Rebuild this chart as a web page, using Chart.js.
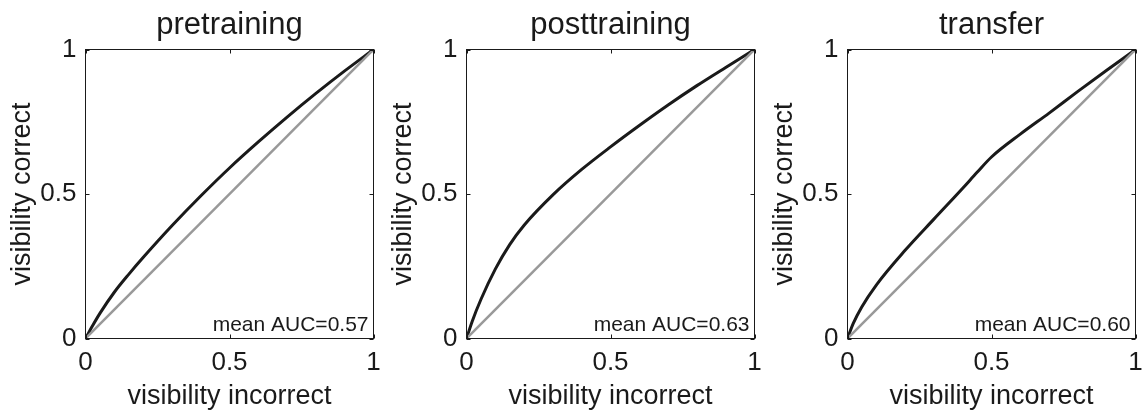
<!DOCTYPE html>
<html lang="en">
<head>
<meta charset="UTF-8">
<title>ROC curves by training phase</title>
<script src="https://cdn.jsdelivr.net/npm/chart.js"></script>
<style>
  body { margin: 0; background: #fff; }
  #panels { display: flex; width: 1142px; height: 410px; }
  canvas { display: block; }
</style>
</head>
<body>
<div id="panels">
  <canvas id="pre" width="381" height="410"></canvas>
  <canvas id="post" width="381" height="410"></canvas>
  <canvas id="transfer" width="380" height="410"></canvas>
</div>
<script>
const conditions = ['pretraining', 'posttraining', 'transfer'];
const meanAUC = ['0.57', '0.63', '0.60'];
const axisTicks = [0, 0.5, 1];
const chanceLine = [0, 1];

// mean ROC curves: visibility incorrect (x) vs visibility correct (y)
const preIncorrect  = [0, 0.025, 0.05, 0.1, 0.15, 0.2, 0.3, 0.4, 0.5, 0.6, 0.7, 0.8, 0.9, 1];
const preCorrect    = [0, 0.045, 0.087, 0.16, 0.222, 0.28, 0.39, 0.493, 0.59, 0.68, 0.766, 0.848, 0.926, 1];

const postIncorrect = [0, 0.02, 0.05, 0.1, 0.15, 0.2, 0.3, 0.4, 0.5, 0.6, 0.7, 0.8, 0.9, 1];
const postCorrect   = [0, 0.06, 0.135, 0.24, 0.325, 0.392, 0.497, 0.585, 0.663, 0.737, 0.808, 0.875, 0.938, 1];

const transIncorrect = [0, 0.02, 0.05, 0.1, 0.2, 0.3, 0.4, 0.45, 0.5, 0.6, 0.7, 0.8, 0.9, 1];
const transCorrect   = [0, 0.052, 0.11, 0.185, 0.305, 0.413, 0.52, 0.575, 0.628, 0.707, 0.78, 0.855, 0.928, 1];

const FONT = '"Liberation Sans", Arial, sans-serif';
const INK = '#1a1a1a';

// box around the axes, inward tick marks and the AUC note
const frame = {
  id: 'frame',
  afterDatasetsDraw(chart, args, opts) {
    const { ctx, chartArea: a, scales: { x, y } } = chart;
    ctx.save();
    ctx.strokeStyle = INK;
    ctx.lineWidth = 1;
    ctx.strokeRect(a.left, a.top, a.right - a.left, a.bottom - a.top);
    const tl = 4;
    ctx.beginPath();
    axisTicks.forEach(v => {
      const px = Math.round(x.getPixelForValue(v)) + 0.5;
      const py = Math.round(y.getPixelForValue(v)) + 0.5;
      ctx.moveTo(px, a.bottom); ctx.lineTo(px, a.bottom - tl);
      ctx.moveTo(px, a.top); ctx.lineTo(px, a.top + tl);
      ctx.moveTo(a.left, py); ctx.lineTo(a.left + tl, py);
      ctx.moveTo(a.right, py); ctx.lineTo(a.right - tl, py);
    });
    ctx.stroke();
    ctx.fillStyle = INK;
    ctx.font = '21px ' + FONT;
    ctx.textAlign = 'right';
    ctx.textBaseline = 'alphabetic';
    ctx.fillText('mean AUC=' + opts.auc, a.right - 5, a.bottom - 8);
    ctx.restore();
  }
};

function toPoints(xs, ys) {
  return xs.map((v, i) => ({ x: v, y: ys[i] }));
}

function makePanel(id, idx, xs, ys) {
  const canvas = document.getElementById(id);
  const rightPad = canvas.width - 373.5;
  return new Chart(canvas, {
    type: 'scatter',
    data: {
      datasets: [
        {
          data: toPoints(chanceLine, chanceLine),
          showLine: true,
          borderColor: '#999999',
          borderWidth: 2.5,
          pointRadius: 0,
          order: 0
        },
        {
          data: toPoints(xs, ys),
          showLine: true,
          borderColor: INK,
          borderWidth: 3,
          pointRadius: 0,
          cubicInterpolationMode: 'monotone',
          order: 1
        }
      ]
    },
    options: {
      responsive: false,
      animation: false,
      layout: { padding: { top: 0, left: 0, right: rightPad, bottom: 0 } },
      plugins: {
        legend: { display: false },
        tooltip: { enabled: false },
        title: {
          display: true,
          text: conditions[idx],
          fullSize: false,
          color: INK,
          font: { family: FONT, size: 31, weight: 'normal' },
          padding: { top: 7, bottom: 5.3 }
        },
        frame: { auc: meanAUC[idx] }
      },
      scales: {
        x: {
          type: 'linear',
          min: 0, max: 1,
          afterBuildTicks: s => { s.ticks = axisTicks.map(v => ({ value: v })); },
          afterFit: s => { s.height = 71.5; s.paddingLeft = 0; s.paddingRight = 0; },
          grid: { display: false, drawTicks: false },
          border: { display: false },
          ticks: { color: INK, padding: 9, font: { family: FONT, size: 26 }, callback: v => String(v) },
          title: {
            display: true,
            text: 'visibility incorrect',
            color: INK,
            font: { family: FONT, size: 27 },
            padding: { top: 0, bottom: -3 }
          }
        },
        y: {
          type: 'linear',
          min: 0, max: 1,
          afterBuildTicks: s => { s.ticks = axisTicks.map(v => ({ value: v })); },
          afterFit: s => { s.width = 85.5; s.paddingTop = 0; s.paddingBottom = 0; },
          grid: { display: false, drawTicks: false },
          border: { display: false },
          ticks: { color: INK, padding: 9, font: { family: FONT, size: 26 }, callback: v => String(v) },
          title: {
            display: true,
            text: 'visibility correct',
            color: INK,
            font: { family: FONT, size: 27 },
            padding: { top: 6, bottom: 0 }
          }
        }
      }
    },
    plugins: [frame]
  });
}

makePanel('pre', 0, preIncorrect, preCorrect);
makePanel('post', 1, postIncorrect, postCorrect);
makePanel('transfer', 2, transIncorrect, transCorrect);
</script>
</body>
</html>
